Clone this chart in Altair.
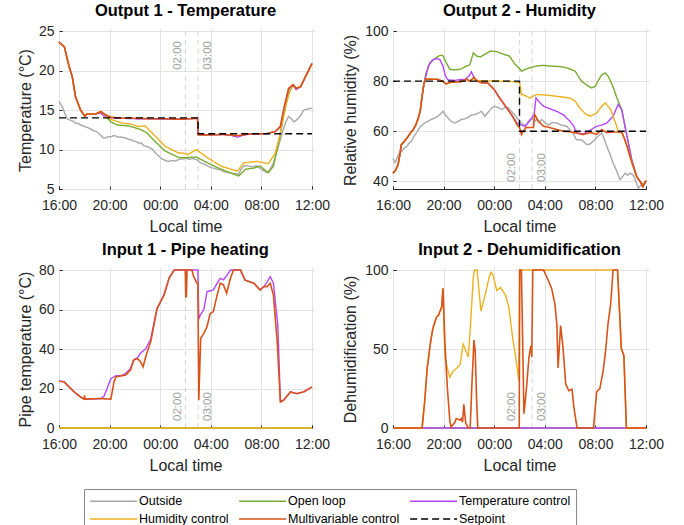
import altair as alt
import pandas as pd

FONT = "Liberation Sans"

SERIES = ["Outside", "Open loop", "Temperature control", "Humidity control",
          "Multivariable control", "Setpoint"]
COLORS = ["#a8a8a8", "#77ac30", "#b446ff", "#edb120", "#d95319", "#000000"]
DASHES = [[1, 0], [1, 0], [1, 0], [1, 0], [1, 0], [7, 4]]

TIME_TICKS = [0, 4, 8, 12, 16, 20]
TIME_LABELS = ["16:00", "20:00", "00:00", "04:00", "08:00", "12:00"]
EVENT_HOURS = [10, 11]
EVENT_LABELS = ["02:00", "03:00"]

# ---------------- Output 1 - Temperature (hours since 16:00, degC) -------------
T_OUTSIDE = [(0, 16.1), (0.15, 15.7), (0.3, 15.3), (0.45, 14.6), (0.65, 13.9), (0.9, 13.7),
             (1.1, 13.6), (1.3, 13.35), (1.5, 13.3), (1.7, 13.1), (1.9, 13.0), (2.1, 12.85),
             (2.3, 12.75), (2.5, 12.6), (2.7, 12.4), (2.9, 12.3), (3.1, 12.1), (3.3, 11.8),
             (3.5, 11.5), (3.7, 11.45), (3.9, 11.65), (4.1, 11.6), (4.3, 11.75), (4.5, 11.7),
             (4.7, 11.55), (4.9, 11.6), (5.1, 11.5), (5.3, 11.45), (5.5, 11.3), (5.7, 11.25),
             (5.9, 11.05), (6.1, 11.0), (6.3, 10.8), (6.5, 10.85), (6.7, 10.5), (6.9, 10.4),
             (7.1, 10.3), (7.4, 10.0), (7.6, 9.6), (7.9, 9.15), (8.1, 8.85), (8.3, 8.7),
             (8.5, 8.55), (8.7, 8.5), (8.9, 8.6), (9.2, 8.55), (9.5, 8.75), (9.75, 8.8),
             (10.0, 8.9), (10.3, 8.75), (10.6, 8.85), (10.9, 8.7), (11.2, 8.3), (11.4, 8.2),
             (11.7, 7.95), (11.95, 7.75), (12.2, 7.65), (12.5, 7.5), (12.8, 7.4), (13.0, 7.2),
             (13.3, 7.1), (13.6, 7.0), (13.9, 6.95), (14.2, 6.9), (14.4, 7.5), (14.6, 7.9),
             (14.9, 7.95), (15.2, 7.8), (15.4, 7.85), (15.65, 7.95), (15.9, 7.6), (16.1, 7.4),
             (16.4, 7.1), (16.6, 7.3), (16.8, 7.8), (16.95, 8.3), (17.2, 9.6), (17.5, 11.25),
             (17.7, 12.4), (17.9, 13.35), (18.15, 14.2), (18.35, 13.9), (18.55, 13.5),
             (18.75, 13.7), (18.95, 14.0), (19.15, 14.4), (19.35, 15.0), (19.6, 15.1),
             (19.8, 15.2), (20, 15.2)]
T_OPEN = [(0, 23.6), (0.42, 23.0), (0.8, 20.5), (1.05, 19.2), (1.3, 16.7), (1.7, 15.0),
          (2.05, 14.2), (2.2, 14.5), (2.9, 14.5), (3.3, 14.8), (3.7, 14.2), (4.1, 13.5),
          (4.6, 13.1), (5.4, 13.0), (5.9, 12.8), (6.5, 12.5), (6.95, 12.1), (7.6, 11.0),
          (8.4, 9.8), (9.05, 9.3), (9.45, 9.0), (9.8, 8.95), (10.85, 9.05), (11.75, 8.3),
          (12.8, 7.5), (13.8, 6.9), (14.2, 6.65), (14.75, 7.5), (15.4, 7.65), (15.9, 7.9),
          (16.55, 7.05), (16.95, 7.9), (17.35, 10.8), (17.75, 14.2), (18.15, 17.1),
          (18.5, 18.2), (18.75, 17.75), (19.1, 17.95), (20, 20.9)]
T_TEMPCTRL = [(0, 23.6), (0.42, 23.0), (0.8, 20.5), (1.05, 19.2), (1.3, 16.7), (1.7, 15.0),
              (2.05, 14.2), (2.2, 14.5), (2.9, 14.5), (3.3, 14.6), (3.5, 14.3), (3.8, 14.1),
              (4.2, 14.0), (5, 13.95), (6, 13.9), (7, 13.9), (8, 13.85), (9, 13.85),
              (10, 13.85), (10.95, 13.95), (11.0, 11.9), (12, 11.85), (13, 11.9), (13.6, 11.8),
              (14.1, 11.55), (14.5, 11.8), (15, 11.95), (16, 12.0), (16.4, 12.0), (17.1, 12.3),
              (17.5, 12.9), (17.8, 15.2), (18.15, 17.6), (18.5, 18.1), (18.75, 17.6),
              (19.1, 17.95), (20, 20.9)]
T_HUMCTRL = [(0, 23.6), (0.42, 23.0), (0.8, 20.5), (1.05, 19.2), (1.3, 16.7), (1.7, 15.0),
             (2.05, 14.2), (2.2, 14.5), (2.9, 14.5), (3.3, 14.8), (3.7, 14.3), (4.1, 13.8),
             (5.0, 13.35), (5.7, 13.2), (6.25, 12.9), (6.8, 13.0), (7.6, 11.7), (8.4, 10.4),
             (9.45, 9.55), (9.8, 9.55), (10.2, 9.35), (10.85, 10.0), (11.75, 8.95),
             (12.8, 7.9), (14.1, 7.25), (14.6, 8.3), (15.65, 8.5), (16.55, 8.2), (17.1, 9.55),
             (17.5, 12.1), (17.9, 15.4), (18.35, 18.0), (18.5, 18.2), (18.75, 17.75),
             (19.1, 17.95), (20, 20.9)]
T_MULTI = [(0, 23.6), (0.42, 23.0), (0.8, 20.5), (1.05, 19.2), (1.3, 16.7), (1.7, 15.0),
           (2.05, 14.2), (2.2, 14.5), (2.9, 14.5), (3.3, 14.8), (3.7, 14.4), (4.1, 14.1),
           (5, 13.95), (6, 13.95), (7, 13.9), (8, 13.9), (9, 13.85), (10, 13.85),
           (10.95, 13.95), (11.0, 11.85), (12, 11.85), (13, 11.9), (14.1, 11.75),
           (15, 11.95), (16.4, 12.0), (17.1, 12.3), (17.5, 12.9), (17.8, 15.4),
           (18.15, 17.75), (18.5, 18.2), (18.75, 17.75), (19.1, 17.95), (20, 20.9)]
T_SETPOINT = [(0, 14), (11, 14), (11, 12), (20, 12)]

# ---------------- Output 2 - Humidity (%) ----------------
H_OUTSIDE = [(0, 49.3), (0.15, 47.5), (0.26, 48.5), (0.4, 50.5), (0.5, 51.3), (0.7, 52),
             (0.9, 53.3), (1.1, 54), (1.3, 55.5), (1.45, 56), (1.6, 57.5), (1.8, 59),
             (2.0, 60.7), (2.2, 62), (2.5, 63.3), (2.75, 64), (3.0, 64.7), (3.3, 65.3),
             (3.55, 66), (3.8, 67.2), (3.95, 68), (4.15, 66.5), (4.35, 65.3), (4.6, 64),
             (4.9, 63.3), (5.15, 64), (5.4, 64.7), (5.7, 65), (5.95, 65.6), (6.2, 66.5),
             (6.5, 66.7), (6.75, 67.3), (7.0, 68), (7.25, 66), (7.5, 67.5), (7.8, 69.3),
             (8.05, 70), (8.3, 69.5), (8.6, 68.7), (8.85, 69.5), (9.1, 69.3), (9.35, 68),
             (9.6, 66.7), (9.8, 65.3), (10.15, 63.3), (10.5, 62), (10.7, 64), (10.95, 65.3),
             (11.2, 64), (11.35, 64.7), (11.55, 63.5), (11.75, 64.7), (12.0, 63.5),
             (12.3, 62.5), (12.6, 63.5), (12.93, 63.3), (13.3, 62.5), (13.75, 62), (14.0, 60.5),
             (14.25, 59), (14.5, 56.7), (14.95, 56.5), (15.3, 54.7), (15.6, 55), (15.95, 56.7),
             (16.2, 58), (16.5, 59.3), (16.7, 57), (16.9, 54), (17.15, 51), (17.4, 47.3),
             (17.7, 44), (17.95, 40.7), (18.15, 42), (18.35, 43.3), (18.55, 42.5),
             (18.75, 43.3), (19.0, 42.5), (19.2, 40), (19.4, 37.3), (19.6, 38.5), (19.8, 39.3),
             (20, 39.5)]
H_OPEN = [(0, 43.3), (0.2, 44.5), (0.4, 46.7), (0.55, 51), (0.66, 54.7), (0.9, 56), (1.2, 58),
          (1.4, 59.5), (1.6, 60.7), (1.8, 62.5), (2.0, 65.3), (2.15, 68), (2.3, 74),
          (2.45, 79), (2.6, 83), (2.9, 87.3), (3.3, 89), (3.7, 90.3), (3.93, 90.3),
          (4.2, 87.5), (4.5, 84.7), (5.0, 84.5), (5.3, 84.7), (5.6, 85.5), (5.8, 86),
          (6.07, 86.5), (6.35, 91.3), (6.6, 90), (6.9, 89.7), (7.2, 90.5), (7.7, 92),
          (8.2, 91.8), (8.75, 90.7), (9.2, 90), (9.65, 86.7), (9.9, 85.5), (10.16, 84),
          (10.5, 84.8), (10.8, 85.3), (11.3, 86), (11.9, 86.3), (12.5, 86), (13.2, 85.8),
          (13.75, 85.3), (14.4, 84), (14.9, 80), (15.3, 78.5), (15.7, 77.3), (16.0, 78),
          (16.2, 80), (16.5, 82.5), (16.77, 83.3), (17.0, 82), (17.2, 80), (17.45, 77),
          (17.7, 73.3), (18.08, 68.7), (18.3, 63), (18.5, 58), (18.87, 48.7), (19.26, 42),
          (19.6, 39.5), (19.75, 38), (20, 40.3)]
H_TEMPCTRL = [(0, 43.3), (0.2, 44.5), (0.4, 46.7), (0.55, 51), (0.66, 54.7), (0.9, 56),
              (1.2, 58), (1.4, 59.5), (1.6, 60.7), (1.8, 62.5), (2.0, 65.3), (2.15, 68),
              (2.3, 74), (2.45, 79), (2.6, 82), (2.8, 86), (3.1, 88.3), (3.4, 89), (3.7, 88.7),
              (3.95, 86), (4.15, 82), (4.35, 80.5), (4.9, 80.3), (5.4, 80.7), (5.7, 80.7),
              (6.0, 82), (6.2, 83.7), (6.4, 81.5), (6.6, 80.2), (7.0, 79.6), (7.5, 79.2),
              (8.0, 76.7), (8.4, 73.5), (8.8, 70.7), (9.1, 68.5), (9.45, 66), (9.8, 63.3),
              (10.16, 62.5), (10.4, 62), (10.8, 64), (11.05, 66), (11.15, 66.5), (11.3, 73.3),
              (11.6, 71.5), (11.9, 70), (12.4, 69), (12.93, 68), (13.5, 66.5), (13.98, 64),
              (14.3, 62), (14.5, 59.3), (15.05, 59), (15.6, 60.5), (16.1, 62), (16.5, 62.5),
              (16.9, 63.3), (17.4, 66), (17.65, 69), (17.8, 70.7), (18.08, 68.7), (18.3, 63),
              (18.5, 58), (18.87, 48.7), (19.26, 42), (19.6, 39.5), (19.75, 38), (20, 40.3)]
H_HUMCTRL = [(0, 43.3), (0.2, 44.5), (0.4, 46.7), (0.55, 51), (0.66, 54.7), (0.9, 56),
             (1.2, 58), (1.4, 59.5), (1.6, 60.7), (1.8, 62.5), (2.0, 65.3), (2.15, 68),
             (2.3, 74), (2.45, 79), (2.6, 80.9), (3.0, 80.8), (3.55, 80.7), (3.9, 80),
             (4.2, 78.9), (4.6, 79.6), (5.0, 79.7), (5.4, 79.8), (5.8, 80.8), (6.07, 80),
             (6.4, 81.5), (6.6, 80.4), (7.0, 80.1), (7.5, 80), (8.0, 80.2), (8.5, 80),
             (9.0, 80), (9.5, 79.8), (9.9, 79.5), (10.02, 79.3), (10.15, 74.5), (10.3, 74.7),
             (10.8, 73.3), (11.35, 74.7), (12.4, 74.3), (13.98, 73.3), (14.4, 72),
             (14.77, 69.3), (15.2, 67), (15.6, 66), (16.1, 67.3), (16.5, 70), (16.77, 71.3),
             (17.2, 68.7), (17.6, 63.3), (17.8, 60), (18.1, 59.5), (18.3, 57), (18.5, 54),
             (18.9, 47.3), (19.26, 42), (19.6, 39.5), (19.75, 38), (20, 40.3)]
H_MULTI = [(0, 43.3), (0.2, 44.5), (0.4, 46.7), (0.55, 51), (0.66, 54.7), (0.9, 56), (1.2, 58),
           (1.4, 59.5), (1.6, 60.7), (1.8, 62.5), (2.0, 65.3), (2.15, 68), (2.3, 74),
           (2.45, 79), (2.6, 80.9), (3.0, 80.8), (3.55, 80.7), (3.9, 80), (4.2, 78.9),
           (4.6, 79.6), (5.0, 79.7), (5.4, 79.8), (5.8, 80.8), (6.07, 80), (6.4, 81.5),
           (6.6, 80.2), (7.0, 79.3), (7.5, 79.2), (8.0, 76.7), (8.4, 73.5), (8.8, 70.7),
           (9.1, 68.5), (9.45, 66), (9.8, 62.7), (10.0, 61.5), (10.16, 58.7), (10.3, 60),
           (10.5, 61.5), (11.1, 61.5), (11.2, 66.7), (11.5, 64), (11.9, 62), (12.4, 61.5),
           (12.93, 60.7), (13.5, 60), (14.0, 59.8), (14.5, 59.3), (15.05, 58.7), (15.6, 59.5),
           (16.1, 58.8), (16.5, 60.7), (16.9, 59.5), (17.4, 59.7), (17.8, 59.7), (18.1, 59.5),
           (18.3, 57), (18.5, 54), (18.9, 47.3), (19.26, 42), (19.6, 39.5), (19.75, 38),
           (20, 40.3)]
H_SETPOINT = [(0, 80), (10, 80), (10, 60), (20, 60)]

# ---------------- Input 1 - Pipe heating (degC) ----------------
P_OPEN = [(0, 0), (20, 0)]
P_HUMCTRL = [(0, 0), (20, 0)]
P_TEMPCTRL = [(0, 23.7), (0.4, 23.4), (0.66, 21.7), (1.2, 18.3), (1.7, 15.7), (2.0, 14.6),
              (3.3, 14.9), (3.55, 16), (3.8, 20), (4.1, 25), (4.5, 26.5), (4.9, 26.5),
              (5.25, 27.5), (5.65, 30), (5.9, 34.5), (6.2, 35.5), (6.45, 38), (6.85, 40),
              (7.25, 45), (7.75, 60.5), (8.3, 67.3), (8.7, 75.8), (9.1, 80), (10.98, 80),
              (11.05, 55), (11.15, 57), (11.45, 60), (11.7, 69), (12.2, 69.9), (12.5, 73.3),
              (12.75, 75.8), (13.0, 75), (13.3, 77.5), (13.55, 80), (14.35, 80), (14.7, 74.9),
              (15.4, 73.3), (15.65, 71.6), (15.9, 69.9), (16.2, 71.6), (16.45, 74),
              (16.7, 76.6), (16.95, 73.3), (17.3, 52), (17.5, 14), (17.75, 14), (18.3, 18.3),
              (18.8, 17.4), (19.35, 18.3), (20, 20.8)]
P_MULTI = [(0, 23.7), (0.4, 23.4), (0.66, 21.7), (1.2, 18.3), (1.7, 15.7), (2.0, 14.6),
           (2.02, 16.6), (2.05, 14.6), (3.3, 14.9), (4.1, 14.6), (4.35, 23.4), (4.5, 25.9),
           (4.9, 26.4), (5.25, 26.7), (5.65, 29.3), (5.9, 34.3), (6.2, 35.2), (6.45, 33.5),
           (6.65, 31), (6.85, 36), (7.25, 43.7), (7.75, 60.5), (8.3, 67.3), (8.7, 75.8),
           (9.1, 80), (9.98, 80), (10.02, 66.5), (10.07, 66.5), (10.12, 80), (10.5, 80),
           (10.65, 76.6), (10.9, 73.3), (10.98, 73.3), (11.05, 14), (11.2, 45.3),
           (11.45, 47.9), (11.7, 51.3), (11.95, 58), (12.2, 58.9), (12.5, 67.3),
           (12.75, 73.3), (13.0, 72.5), (13.25, 68.2), (13.55, 75.8), (13.8, 80),
           (14.35, 80), (14.7, 74.9), (15.4, 73.3), (15.65, 71.6), (15.9, 69.9), (16.2, 71.6),
           (16.45, 71.6), (16.7, 73.3), (16.95, 67.3), (17.25, 43.7), (17.5, 13.2),
           (17.75, 14), (18.3, 18.3), (18.8, 17.4), (19.35, 18.3), (20, 20.8)]

# ---------------- Input 2 - Dehumidification (%) ----------------
D_OPEN = [(0, 0), (20, 0)]
D_TEMPCTRL = [(0, 0), (20, 0)]
D_HUMCTRL = [(0, 0), (2.3, 0), (2.5, 16.5), (2.7, 37.6), (2.97, 54.5), (3.15, 63), (3.45, 70.4),
             (3.6, 71.5), (3.85, 76.7), (3.95, 88.4), (4.1, 45), (4.35, 36), (4.5, 32),
             (4.75, 36), (5.0, 37.6), (5.3, 40), (5.55, 53), (5.7, 50), (5.95, 45), (6.1, 61.6),
             (6.35, 95.6), (6.45, 100), (6.65, 100), (6.95, 74), (7.3, 84.8), (7.6, 95.4),
             (7.75, 98.6), (7.9, 97), (8.2, 87), (8.5, 89), (8.9, 84), (9.15, 76.6),
             (9.45, 57.6), (9.7, 44.7), (9.95, 30), (10.0, 100), (17.75, 100), (18.05, 50.3),
             (18.25, 46), (18.45, 0), (20, 0)]
D_MULTI = [(0, 0), (2.3, 0), (2.5, 16.5), (2.7, 37.6), (2.97, 54.5), (3.15, 63), (3.45, 70.4),
           (3.6, 71.5), (3.85, 76.7), (3.95, 88.4), (4.1, 54.5), (4.3, 25), (4.5, 4),
           (4.6, 0.6), (4.9, 3.8), (5.0, 6), (5.3, 5), (5.4, 6), (5.5, 3.8), (5.6, 15),
           (5.75, 3), (5.95, 0), (6.1, 0), (6.25, 30), (6.4, 55.6), (6.5, 48.2), (6.6, 20),
           (6.7, 0), (9.98, 0), (10.02, 100), (10.15, 100), (10.35, 9), (10.55, 25),
           (10.75, 45), (10.9, 52), (10.97, 45), (11.05, 100), (11.9, 100), (12.3, 93),
           (12.55, 88), (12.8, 78.5), (12.95, 66), (13.05, 38), (13.25, 64.8), (13.45, 50),
           (13.65, 28), (13.9, 23.6), (14.15, 24.5), (14.3, 13.1), (14.55, 0), (15.85, 0),
           (16.1, 22.8), (16.35, 25), (16.6, 35.5), (16.8, 48.2), (17.0, 66.2), (17.2, 77.8),
           (17.4, 100), (17.75, 100), (18.05, 50.3), (18.25, 46), (18.45, 0), (20, 0)]

W, H = 253, 158

label_expr = " : ".join(
    f"datum.value == {t} ? '{lab}'" for t, lab in zip(TIME_TICKS, TIME_LABELS)
) + " : ''"

color_scale = alt.Scale(domain=SERIES, range=COLORS)
dash_scale = alt.Scale(domain=SERIES, range=DASHES)
legend = alt.Legend(
    title=None, orient="none", legendX=25, legendY=458, columns=3, direction="horizontal",
    symbolType="M-1,0H7", symbolSize=138, symbolStrokeWidth=1.5,
    labelFont=FONT, labelFontSize=12.5, labelColor="#000000", labelOffset=36,
    strokeColor="#8a8a8a", fillColor="#ffffff", padding=5, rowPadding=4,
    columnPadding=7,
)


def to_df(pairs, name):
    return pd.DataFrame({
        "h": [p[0] for p in pairs],
        "v": [p[1] for p in pairs],
        "series": name,
        "i": list(range(len(pairs))),
    })


def panel(title, ytitle, ydomain, yticks, series, labels_top, ytitle_x):
    x_enc = alt.X("h:Q", scale=alt.Scale(domain=[0, 20], nice=False, zero=False),
                  axis=alt.Axis(values=TIME_TICKS, labelExpr=label_expr, title="Local time",
                                labelFlush=False, grid=True))
    y_enc = alt.Y("v:Q", scale=alt.Scale(domain=ydomain, nice=False, zero=False),
                  axis=alt.Axis(values=yticks, title=ytitle, titleX=ytitle_x, grid=True))
    ev = pd.DataFrame({"h": EVENT_HOURS, "lab": EVENT_LABELS})
    layers = [alt.Chart(ev).mark_rule(color="#d6d6d6", strokeDash=[5, 4], strokeWidth=1)
              .encode(x=x_enc)]
    for k, (hh, lab) in enumerate(zip(EVENT_HOURS, EVENT_LABELS)):
        df = pd.DataFrame({"h": [hh], "lab": [lab]})
        left = k == 0
        if labels_top:
            props = dict(align="right", dx=-10)
            yv = 0
        else:
            props = dict(align="left", dx=7)
            yv = H
        if left:
            props.update(baseline="bottom", dy=-3)
        else:
            props.update(baseline="top", dy=4)
        layers.append(
            alt.Chart(df).mark_text(angle=270, font=FONT, fontSize=11.5, color="#a0a0a0", **props)
            .encode(x=x_enc, y=alt.value(yv), text="lab:N"))
    for name, pairs in series:
        sw = 1.4 if name != "Multivariable control" else 1.6
        layers.append(
            alt.Chart(to_df(pairs, name)).mark_line(strokeWidth=sw).encode(
                x=x_enc, y=y_enc,
                color=alt.Color("series:N", scale=color_scale, legend=legend),
                strokeDash=alt.StrokeDash("series:N", scale=dash_scale, legend=legend),
                order="i:Q"))
    return alt.layer(*layers).properties(
        width=W, height=H, title=alt.TitleParams(text=title))


p1 = panel("Output 1 - Temperature", "Temperature (°C)", [5, 25], [5, 10, 15, 20, 25],
           [("Outside", T_OUTSIDE), ("Open loop", T_OPEN), ("Temperature control", T_TEMPCTRL),
            ("Humidity control", T_HUMCTRL), ("Multivariable control", T_MULTI),
            ("Setpoint", T_SETPOINT)], True, -29)
p2 = panel("Output 2 - Humidity", "Relative humidity (%)", [37, 100], [40, 60, 80, 100],
           [("Outside", H_OUTSIDE), ("Open loop", H_OPEN), ("Temperature control", H_TEMPCTRL),
            ("Humidity control", H_HUMCTRL), ("Multivariable control", H_MULTI),
            ("Setpoint", H_SETPOINT)], False, -38)
p3 = panel("Input 1 - Pipe heating", "Pipe temperature (°C)", [0, 80], [0, 20, 40, 60, 80],
           [("Open loop", P_OPEN), ("Temperature control", P_TEMPCTRL),
            ("Humidity control", P_HUMCTRL), ("Multivariable control", P_MULTI)], False, -29)
p4 = panel("Input 2 - Dehumidification", "Dehumidification (%)", [0, 100], [0, 50, 100],
           [("Open loop", D_OPEN), ("Temperature control", D_TEMPCTRL),
            ("Humidity control", D_HUMCTRL), ("Multivariable control", D_MULTI)], False, -38)

chart = alt.concat(p1, p2, p3, p4, columns=2, spacing=81, bounds="flush").resolve_scale(
    color="shared", strokeDash="shared"
).properties(
    padding={"left": 16, "top": 2, "right": 5, "bottom": 5}
).configure(font=FONT).configure_axis(
    labelFont=FONT, titleFont=FONT, labelFontSize=14, titleFontSize=16,
    titleFontWeight="normal", labelColor="#262626", titleColor="#262626",
    gridColor="#e3e3e3", gridWidth=1, domain=False, ticks=True, tickSize=3,
    tickColor="#262626", tickWidth=1, offset=-3,
).configure_axisX(labelPadding=9, titlePadding=6).configure_axisY(labelPadding=5).configure_view(
    stroke="#262626", strokeWidth=1
).configure_title(
    font=FONT, fontSize=16.5, fontWeight="bold", color="#000000", offset=5,
    baseline="alphabetic"
)

chart.save("out.html", embed_options={"renderer": "svg", "actions": False})
